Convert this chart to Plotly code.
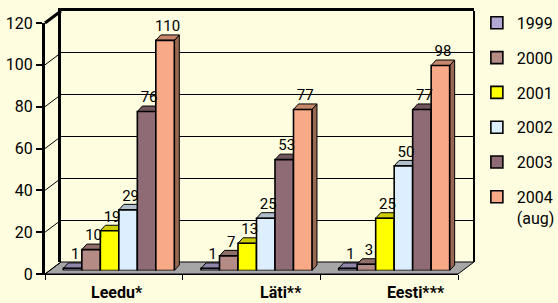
import plotly.graph_objects as go

# ---------------- data ----------------
categories = ["Leedu*", "Läti**", "Eesti***"]
series_names = ["1999", "2000", "2001", "2002", "2003", "2004<br>(aug)"]
v1999 = [1, 1, 1]
v2000 = [10, 7, 3]
v2001 = [19, 13, 25]
v2002 = [29, 25, 50]
v2003 = [76, 53, 77]
v2004 = [110, 77, 98]
y_ticks = [0, 20, 40, 60, 80, 100, 120]

series_values = [v1999, v2000, v2001, v2002, v2003, v2004]
colors = ["#B3A8D4", "#B58B85", "#FFFF00", "#DDEEFF", "#8E6B75", "#F8A987"]

# ---------------- geometry / style ----------------
W, H = 558, 303
ML, MR, MT, MB = 45, 84, 11, 29
PW, PH = W - ML - MR, H - MT - MB
AXW, AXH = 413, 251            # front axes size in px
BACK_DX, BACK_DY = 16, 12      # back-wall offset in px
BAR_DX, BAR_DY = 5, 3.5        # bar row offset in px
YMAX = 120
BG = "#FEFDDF"
FONT = "Roboto"

xr = [-0.5, len(categories) - 0.5]
px_per_xu = AXW / (xr[1] - xr[0])
px_per_yu = AXH / YMAX
DEPTH_X = 5 / px_per_xu
DEPTH_Y = 5.5 / px_per_yu
GROUP = 0.806
bw = GROUP / len(series_values)

front_x = [0, AXW / PW]
front_y = [0, AXH / PH]
back_x = [BACK_DX / PW, (BACK_DX + AXW) / PW]
back_y = [BACK_DY / PH, (BACK_DY + AXH) / PH]
bar_x = [BAR_DX / PW, (BAR_DX + AXW) / PW]
bar_y = [BAR_DY / PH, (BAR_DY + AXH) / PH]


def shade(hx, f):
    h = hx.lstrip("#")
    r, g, b = (int(h[i:i + 2], 16) for i in (0, 2, 4))
    return "#%02X%02X%02X" % (int(r * f), int(g * f), int(b * f))


fig = go.Figure()

# front axes (tick labels) and back wall (grid) — empty traces to create subplots
fig.add_trace(go.Scatter(x=[None], y=[None], xaxis="x", yaxis="y", showlegend=False))
fig.add_trace(go.Scatter(x=[None], y=[None], xaxis="x2", yaxis="y2", showlegend=False))

# 3D faces (tops and sides) drawn in a subplot below the bar fronts
for i, (vals, col) in enumerate(zip(series_values, colors)):
    tx, ty, sx, sy = [], [], [], []
    for c, v in enumerate(vals):
        x0 = c - GROUP / 2 + i * bw
        x1 = x0 + bw
        tx += [x0, x1, x1 + DEPTH_X, x0 + DEPTH_X, x0, None]
        ty += [v, v, v + DEPTH_Y, v + DEPTH_Y, v, None]
        sx += [x1, x1 + DEPTH_X, x1 + DEPTH_X, x1, x1, None]
        sy += [0, DEPTH_Y, v + DEPTH_Y, v, 0, None]
    fig.add_trace(go.Scatter(x=sx, y=sy, mode="lines", fill="toself",
                             fillcolor=shade(col, 0.62), line=dict(color="black", width=1),
                             xaxis="x3", yaxis="y3", showlegend=False, hoverinfo="skip"))
    fig.add_trace(go.Scatter(x=tx, y=ty, mode="lines", fill="toself",
                             fillcolor=shade(col, 0.8), line=dict(color="black", width=1),
                             xaxis="x3", yaxis="y3", showlegend=False, hoverinfo="skip"))

# bar fronts
for i, (vals, col, name) in enumerate(zip(series_values, colors, series_names)):
    fig.add_trace(go.Bar(x=list(range(len(categories))), y=vals, width=bw,
                         offset=-GROUP / 2 + i * bw, name=name, legendgroup=name,
                         marker=dict(color=col, line=dict(color="black", width=1.6)),
                         xaxis="x4", yaxis="y4"))

# value labels
for i, vals in enumerate(series_values):
    xs = [c - GROUP / 2 + (i + 0.5) * bw + DEPTH_X / 2 for c in range(len(categories))]
    fig.add_trace(go.Scatter(x=xs, y=[v + DEPTH_Y for v in vals], mode="text",
                             text=[str(v) for v in vals], textposition="top center",
                             textfont=dict(family=FONT, size=15, color="black"),
                             cliponaxis=False, xaxis="x4", yaxis="y4",
                             showlegend=False, hoverinfo="skip"))

# ---------------- shapes: floor, side wall, frame ----------------
def fy(v):
    return front_y[0] + v / YMAX * (front_y[1] - front_y[0])


def by(v):
    return back_y[0] + v / YMAX * (back_y[1] - back_y[0])


shapes = []
shapes.append(dict(type="path", xref="paper", yref="paper", layer="below",
                   path="M%f,%f L%f,%f L%f,%f L%f,%f Z" % (
                       front_x[0], fy(0), front_x[1], fy(0), back_x[1], by(0), back_x[0], by(0)),
                   fillcolor="#A6A6A6", line=dict(color="black", width=1)))
for v in y_ticks:
    shapes.append(dict(type="line", xref="paper", yref="paper", layer="below",
                       x0=front_x[0], y0=fy(v), x1=back_x[0], y1=by(v),
                       line=dict(color="black", width=3 if v == YMAX else 1)))
shapes.append(dict(type="line", xref="paper", yref="paper", layer="below",
                   x0=back_x[1], y0=by(0), x1=back_x[1], y1=by(YMAX),
                   line=dict(color="black", width=2)))

annotations = []
label_shift = [3, 29, 27]
for c, name in enumerate(categories):
    annotations.append(dict(text="<b>" + name + "</b>", x=c, xref="x", y=-18 / PH, yref="paper",
                            yanchor="middle", xanchor="center", xshift=label_shift[c],
                            showarrow=False,
                            font=dict(family=FONT, size=16, color="black")))

axis_hidden = dict(visible=False, showgrid=False, zeroline=False, fixedrange=True)

fig.update_layout(
    width=W, height=H,
    margin=dict(l=ML, r=MR, t=MT, b=MB, autoexpand=False),
    paper_bgcolor=BG, plot_bgcolor="rgba(0,0,0,0)",
    barmode="overlay",
    font=dict(family=FONT, size=16, color="black"),
    shapes=shapes,
    annotations=annotations,
    legend=dict(x=1.0067, xanchor="left", y=0.584, yanchor="middle", valign="top",
                font=dict(family=FONT, size=16, color="black"),
                bgcolor="rgba(0,0,0,0)", tracegroupgap=11, itemclick=False),
    xaxis=dict(domain=front_x, range=xr, anchor="y", showgrid=False, zeroline=False,
               showline=True, linecolor="black", linewidth=1,
               tickmode="array", tickvals=[-0.5, 0.5, 1.5, 2.5], showticklabels=False,
               ticks="outside", ticklen=5, tickwidth=1, tickcolor="black"),
    yaxis=dict(domain=front_y, range=[0, YMAX], anchor="x", showgrid=False, zeroline=False,
               showline=True, linecolor="black", linewidth=3,
               tickmode="array", tickvals=y_ticks,
               ticks="outside", ticklen=6, tickwidth=1.5, tickcolor="black",
               tickfont=dict(family=FONT, size=16, color="black")),
    xaxis2=dict(domain=back_x, range=xr, anchor="y2", side="top", showgrid=False,
                zeroline=False, showline=True, linecolor="black", linewidth=3,
                showticklabels=False, ticks=""),
    yaxis2=dict(domain=back_y, range=[0, YMAX], anchor="x2", side="left", showgrid=True,
                gridcolor="black", gridwidth=1, tickvals=y_ticks, zeroline=False,
                showline=True, linecolor="black", linewidth=3,
                showticklabels=False, ticks=""),
    xaxis3=dict(domain=bar_x, range=xr, anchor="y3", **axis_hidden),
    yaxis3=dict(domain=bar_y, range=[0, YMAX], anchor="x3", **axis_hidden),
    xaxis4=dict(domain=bar_x, range=xr, anchor="y4", **axis_hidden),
    yaxis4=dict(domain=bar_y, range=[0, YMAX], anchor="x4", **axis_hidden),
)

fig.write_html("out.html", config={"displayModeBar": False},
               post_script="document.body.style.margin='0';document.body.style.background='%s';" % BG)
